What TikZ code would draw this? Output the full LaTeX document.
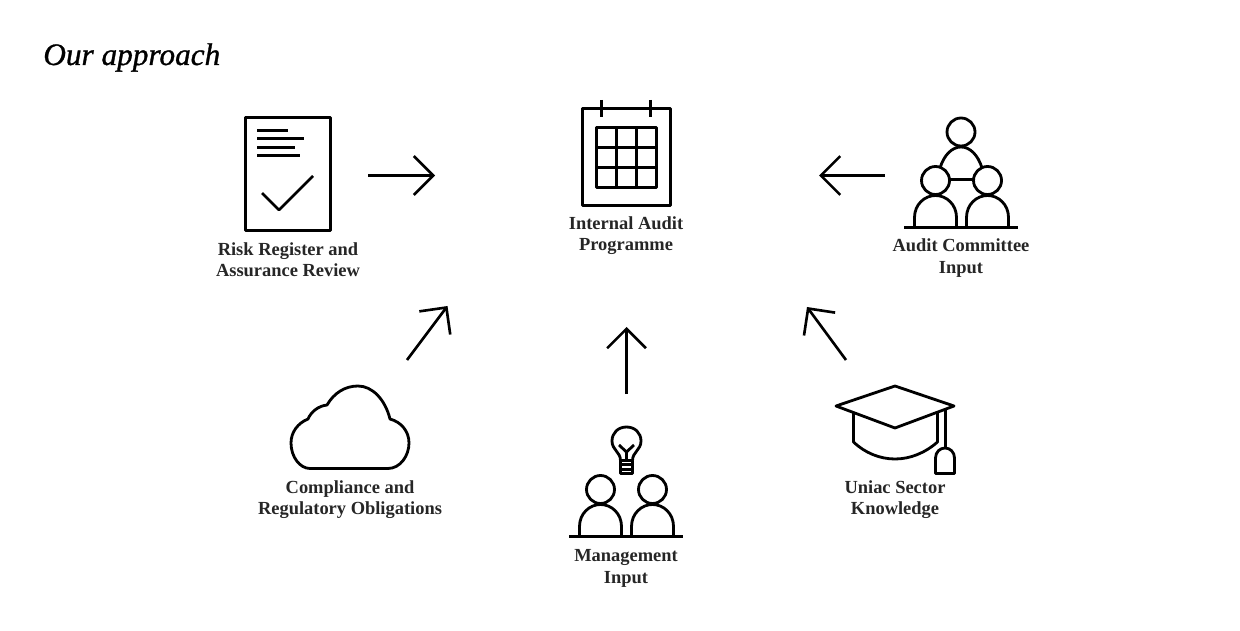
\documentclass[tikz,border=0pt]{standalone}
\usepackage{fontspec}
\setmainfont{Liberation Serif}
\newfontface\titlefont[FakeBold=1]{Liberation Serif Italic}
\usetikzlibrary{arrows.meta}

\begin{document}
\begin{tikzpicture}[x=0.02cm,y=-0.02cm,
        icon/.style = {draw=black, line width=1.6pt, line join=round},
        label/.style = {align=center, inner sep=0pt, text=black!85, font=\bfseries\fontsize{10.5}{12.1}\selectfont},
        flow/.style = {line width=1.5pt, -{Straight Barb[length=11pt,width=22pt,line width=1.5pt]}},
        person/.pic = {
            \draw[icon] (-21,0) -- (-21,-10) .. controls (-21,-23) and (-11,-32) .. (0,-32) .. controls (11,-32) and (21,-23) .. (21,-10) -- (21,0);
            \draw[icon] (0,-47) circle [radius=14];
        }]
        \useasboundingbox (0,0) rectangle (1240,631);

        \node[anchor=base west, inner sep=0pt, font=\titlefont\fontsize{17.8}{22}\selectfont] (title) at (43,65) {Our approach};

        % labels
        \node[label] (risk) at (288,259.5) {Risk Register and\\Assurance Review};
        \node[label] (audit) at (626,236) {Internal Audit\\Programme};
        \node[label] (committee) at (961,258) {Audit Committee\\Input};
        \node[label] (compliance) at (350,500) {Compliance and\\Regulatory Obligations};
        \node[label] (management) at (626,568.5) {Management\\Input};
        \node[label] (uniac) at (895,500) {Uniac Sector\\Knowledge};

        % document
        \draw[icon] (245.5,117.5) rectangle (330.5,230.5);
        \draw[icon] (257,130.5) -- (288,130.5);
        \draw[icon] (257,138.5) -- (304,138.5);
        \draw[icon] (257,147.5) -- (295,147.5);
        \draw[icon] (257,155.5) -- (300,155.5);
        \draw[icon] (262,193) -- (279,210) -- (313,176);

        % calendar
        \draw[icon] (582.5,108.5) rectangle (670.5,205.5);
        \draw[icon] (601.5,100) -- (601.5,117);
        \draw[icon] (650.5,100) -- (650.5,117);
        \draw[icon] (596.5,127.5) rectangle (656.5,187.5);
        \foreach \k in {1,2} {
            \draw[icon] (596.5+20*\k,127.5) -- (596.5+20*\k,187.5);
            \draw[icon] (596.5,127.5+20*\k) -- (656.5,127.5+20*\k);
        }

        % committee
        \draw[icon] (961,132) circle [radius=14];
        \draw[icon] (940,168) .. controls (944,155) and (952,147) .. (961,147) .. controls (970,147) and (978,155) .. (982,168);
        \draw[icon] (948,179.5) -- (973,179.5);
        \pic at (935.5,227.5) {person};
        \pic at (987.5,227.5) {person};
        \draw[icon] (904,227.5) -- (1018,227.5);

        % management
        \pic at (600.5,536.5) {person};
        \pic at (652.5,536.5) {person};
        \draw[icon] (569,536.5) -- (683,536.5);
        \draw[icon] (620.5,460.5) .. controls (620.5,452) and (612,450) .. (612,441) .. controls (612,433) and (618,427) .. (626.5,427) .. controls (635,427) and (641,433) .. (641,441) .. controls (641,450) and (632.5,452) .. (632.5,460.5);
        \draw[icon] (620.5,460.5) rectangle (632.5,473.5);
        \draw[icon] (620.5,464.5) -- (632.5,464.5);
        \draw[icon] (620.5,469.5) -- (632.5,469.5);
        \draw[icon] (619,445) -- (626.5,452) -- (634,445);
        \draw[icon] (626.5,452) -- (626.5,460.5);

        % cloud
        \draw[icon] (310,468.5) -- (388,468.5) .. controls (400,468.5) and (409,456) .. (409,443) .. controls (409,431) and (401,422) .. (390,419)
            .. controls (385,399) and (372,386) .. (358,386) .. controls (345,386) and (334,393) .. (327,405)
            .. controls (318,406) and (311,412) .. (308,419) .. controls (298,423) and (291,432) .. (291,443) .. controls (291,457) and (300,468.5) .. (310,468.5) -- cycle;

        % cap
        \draw[icon] (836,406) -- (895,386) -- (954,406) -- (895,428) -- cycle;
        \draw[icon] (853.5,413) -- (853.5,442) .. controls (865,453) and (880,459) .. (895,459) .. controls (910,459) and (925,453) .. (937.5,442) -- (937.5,413);
        \draw[icon] (945.5,408) -- (945.5,448);
        \draw[icon] (935.5,473.5) -- (935.5,458) .. controls (935.5,452) and (940,448) .. (945,448) .. controls (950,448) and (954.5,452) .. (954.5,458) -- (954.5,473.5) -- cycle;

        % arrows
        \coordinate (a1s) at (368,175.5);
        \coordinate (a1e) at (435,175.5);
        \coordinate (a2s) at (885,175.5);
        \coordinate (a2e) at (819,175.5);
        \coordinate (a3s) at (407,360);
        \coordinate (a3e) at (447.5,306);
        \coordinate (a4s) at (626.5,394);
        \coordinate (a4e) at (626.5,327);
        \coordinate (a5s) at (846,360);
        \coordinate (a5e) at (807,307);
        \draw[flow] (a1s) -- (a1e);
        \draw[flow] (a2s) -- (a2e);
        \draw[flow] (a3s) -- (a3e);
        \draw[flow] (a4s) -- (a4e);
        \draw[flow] (a5s) -- (a5e);
    \end{tikzpicture}
\end{document}
